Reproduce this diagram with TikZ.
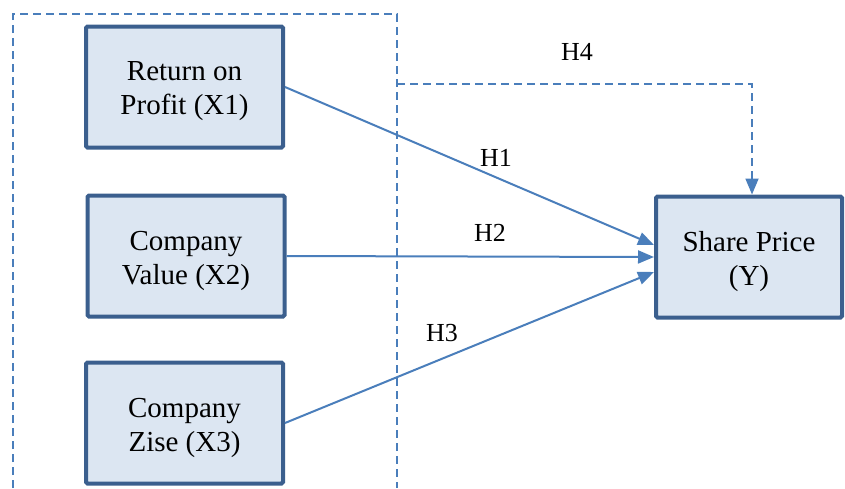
\documentclass[tikz,border=0pt]{standalone}
\usepackage{fontspec}
\setmainfont{Liberation Serif}
\usetikzlibrary{arrows.meta}
\definecolor{boxfill}{HTML}{DCE6F2}
\definecolor{boxline}{HTML}{3B5F8E}
\definecolor{linkblue}{HTML}{4A7EBB}
\tikzset{
  varbox/.style={draw=boxline, line width=4pt, fill=boxfill, rounded corners=1.5pt,
    minimum width=197pt, minimum height=121pt, inner sep=0pt,
    label={[varlabel]center:#1}},
  varlabel/.style={align=center, font=\fontsize{29}{34}\selectfont,
    inner sep=0pt, yshift=-4.5pt},
  tip/.style={-{Triangle[length=16pt,width=13pt]}},
  link/.style={draw=linkblue, line width=2pt, tip},
  frame/.style={draw=linkblue, line width=1.8pt, dash pattern=on 8pt off 5pt},
  hlabel/.style={font=\fontsize{26}{30}\selectfont, inner sep=0pt}
}
\begin{document}
\begin{tikzpicture}[x=1pt,y=-1pt]
  \useasboundingbox (0,0) rectangle (845,488);

  % grouping frame around the independent variables (open at the bottom)
  \coordinate (fbl) at (13,488);
  \coordinate (ftl) at (13,14);
  \coordinate (ftr) at (397,14);
  \coordinate (fbr) at (397,488);
  \draw[frame] (fbl) -- (ftl) -- (ftr) -- (fbr);

  % variables
  \node[varbox={Return on\\Profit (X1)}] (x1) at (184.5,87) {};
  \node[varbox={Company\\Value (X2)}] (x2) at (186,256) {};
  \node[varbox={Company\\Zise (X3)}] (x3) at (184.5,423) {};
  \node[varbox={Share Price\\(Y)}, minimum width=186pt] (y) at (749,257) {};

  % joint hypothesis H4
  \coordinate (h4s) at (397,84);
  \coordinate (h4c) at (752,84);
  \draw[frame, tip] (h4s) -- (h4c) -- (h4c |- y.north);

  % partial hypotheses
  \draw[link] (x1.east) -- ([yshift=12pt]y.west);
  \draw[link] (x2.east) -- (y.west);
  \draw[link] (x3.east) -- ([yshift=-15pt]y.west);

  % labels
  \node[hlabel] (lh4) at (577,52)  {H4};
  \node[hlabel] (lh1) at (496,158) {H1};
  \node[hlabel] (lh2) at (490,233) {H2};
  \node[hlabel] (lh3) at (442,333) {H3};
\end{tikzpicture}
\end{document}
